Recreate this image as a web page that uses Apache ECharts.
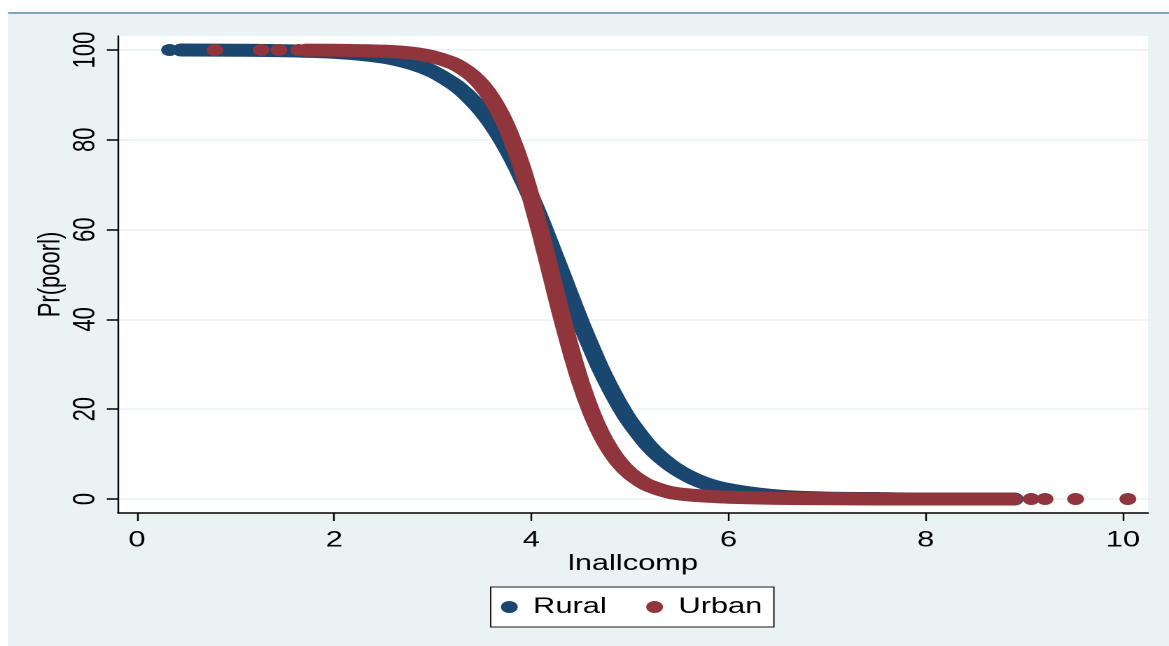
<!DOCTYPE html>
<html>
<head>
<meta charset="utf-8">
<script src="https://cdn.jsdelivr.net/npm/echarts@6/dist/echarts.min.js"></script>
<style>
html, body { margin: 0; padding: 0; background: #ffffff; overflow: hidden; width: 1169px; height: 646px; }
#chart { width: 835px; height: 646px; transform: scaleX(1.4); transform-origin: 0 0; }
</style>
</head>
<body>
<div id="chart"></div>
<script>
// ---- data ----
const xTicks = [0, 2, 4, 6, 8, 10];
const yTicks = [0, 20, 40, 60, 80, 100];

// Rural: dense predicted-probability band
const ruralX = [0.45, 1.0, 1.5, 2.0, 2.5, 2.8, 3.0, 3.2, 3.3, 3.4, 3.5, 3.6, 3.7, 3.8, 3.9, 4.0, 4.1, 4.2, 4.3, 4.4, 4.5, 4.6, 4.7, 4.8, 4.9, 5.0, 5.2, 5.4, 5.6, 5.8, 6.0, 6.3, 6.6, 7.0, 7.5, 8.0, 8.9];
const ruralY = [100.0, 99.95, 99.84, 99.49, 98.42, 96.9, 95.2, 92.6, 90.9, 88.8, 86.4, 83.5, 80.1, 76.2, 71.8, 67.0, 61.8, 56.2, 50.6, 44.9, 39.3, 34.1, 29.1, 24.7, 20.7, 17.2, 11.6, 7.7, 5.0, 3.2, 2.1, 1.1, 0.5, 0.2, 0.1, 0.0, 0.0];
// Rural: isolated points
const ruralDotX = [0.33];
const ruralDotY = [100];

// Urban: dense predicted-probability band
const urbanX = [1.72, 2.0, 2.5, 2.8, 3.0, 3.2, 3.3, 3.4, 3.5, 3.6, 3.7, 3.8, 3.9, 4.0, 4.1, 4.2, 4.3, 4.4, 4.5, 4.6, 4.7, 4.8, 4.9, 5.0, 5.1, 5.2, 5.4, 5.6, 5.8, 6.0, 6.5, 7.0, 8.0, 8.89];
const urbanY = [99.98, 99.95, 99.74, 99.26, 98.5, 97.1, 95.9, 94.3, 92.1, 89.1, 85.2, 80.2, 74.1, 66.8, 58.7, 50.0, 41.3, 33.2, 25.9, 19.8, 14.8, 10.9, 7.9, 5.7, 4.1, 2.9, 1.5, 0.9, 0.6, 0.4, 0.15, 0.05, 0.0, 0.0];
// Urban: isolated points
const urbanDotX = [0.79, 1.26, 1.44, 1.64, 9.07, 9.21, 9.52, 10.05];
const urbanDotY = [100, 100, 100, 100, 0, 0, 0, 0];

const seriesNames = ['Rural', 'Urban'];
const xTitle = 'lnallcomp';
const yTitle = 'Pr(poorl)';

// ---- styling ----
const BLUE = '#1a476f';
const RED = '#90353b';
const BG = '#eaf2f3';
const FONT = '"Liberation Sans", Arial, sans-serif';

function zip(a, b) { return a.map((v, i) => [v, b[i]]); }

const chart = echarts.init(document.getElementById('chart'), null, { devicePixelRatio: 2 });

chart.setOption({
  animation: false,
  backgroundColor: '#ffffff',
  textStyle: { fontFamily: FONT },
  graphic: [
    { type: 'rect', silent: true, z: -20, shape: { x: 5.7, y: 14, width: 835 - 5.7, height: 632 }, style: { fill: BG } },
    { type: 'line', silent: true, z: -19, shape: { x1: 5.7, y1: 13, x2: 835, y2: 13 }, style: { stroke: '#5b87a8', lineWidth: 1.5 } },
    { type: 'rect', silent: true, z: -18, shape: { x: 84.3, y: 36, width: 820 - 84.3, height: 513 - 36 }, style: { fill: '#ffffff' } }
  ],
  grid: { left: 84.3, right: 15, top: 36, bottom: 133, containLabel: false },
  xAxis: {
    type: 'value', min: -0.1925, max: 10.2545,
    axisLine: { show: true, onZero: false, lineStyle: { color: '#000', width: 1.5 } },
    axisTick: { show: true, customValues: xTicks, length: 8, lineStyle: { color: '#000', width: 1.2 } },
    axisLabel: { customValues: xTicks, margin: 16.5, fontSize: 22, color: '#000', fontFamily: FONT },
    splitLine: { show: false },
    name: xTitle, nameLocation: 'middle', nameGap: 40, nameMoveOverlap: false,
    nameTextStyle: { fontSize: 22, color: '#000', fontFamily: FONT }
  },
  yAxis: {
    type: 'value', min: -3.118, max: 103.12,
    axisLine: { show: true, onZero: false, lineStyle: { color: '#000', width: 1.2 } },
    axisTick: { show: true, customValues: yTicks, length: 8, lineStyle: { color: '#000', width: 1.5 } },
    axisLabel: { customValues: yTicks, margin: 12, rotate: 90, fontSize: 22, color: '#000', fontFamily: FONT },
    splitLine: { show: true, lineStyle: { color: BG, width: 1.5 } },
    name: yTitle, nameLocation: 'middle', nameGap: 37, nameMoveOverlap: false,
    nameTextStyle: { fontSize: 22, color: '#000', fontFamily: FONT }
  },
  legend: {
    data: seriesNames,
    icon: 'circle',
    left: 350.5, top: 587,
    itemWidth: 24, itemHeight: 12, itemGap: 28.2,
    padding: [9, 8.3, 9, 7.3],
    backgroundColor: '#ffffff',
    borderColor: '#1a1a1a', borderWidth: 1,
    textStyle: { fontSize: 22, color: '#000', fontFamily: FONT },
    selectedMode: false
  },
  series: [
    {
      name: seriesNames[0], type: 'line', data: zip(ruralX, ruralY),
      smooth: 0.3, symbol: 'none', showSymbol: false,
      lineStyle: { color: BLUE, width: 13, cap: 'round', join: 'round' },
      itemStyle: { color: BLUE }, z: 2, silent: true
    },
    {
      name: seriesNames[0], type: 'scatter', data: zip(ruralDotX, ruralDotY),
      symbol: 'circle', symbolSize: 12, itemStyle: { color: BLUE, opacity: 1 }, z: 2, silent: true
    },
    {
      name: seriesNames[1], type: 'line', data: zip(urbanX, urbanY),
      smooth: 0.3, symbol: 'none', showSymbol: false,
      lineStyle: { color: RED, width: 13, cap: 'round', join: 'round' },
      itemStyle: { color: RED }, z: 3, silent: true
    },
    {
      name: seriesNames[1], type: 'scatter', data: zip(urbanDotX, urbanDotY),
      symbol: 'circle', symbolSize: 12, itemStyle: { color: RED, opacity: 1 }, z: 3, silent: true
    }
  ]
});
</script>
</body>
</html>
